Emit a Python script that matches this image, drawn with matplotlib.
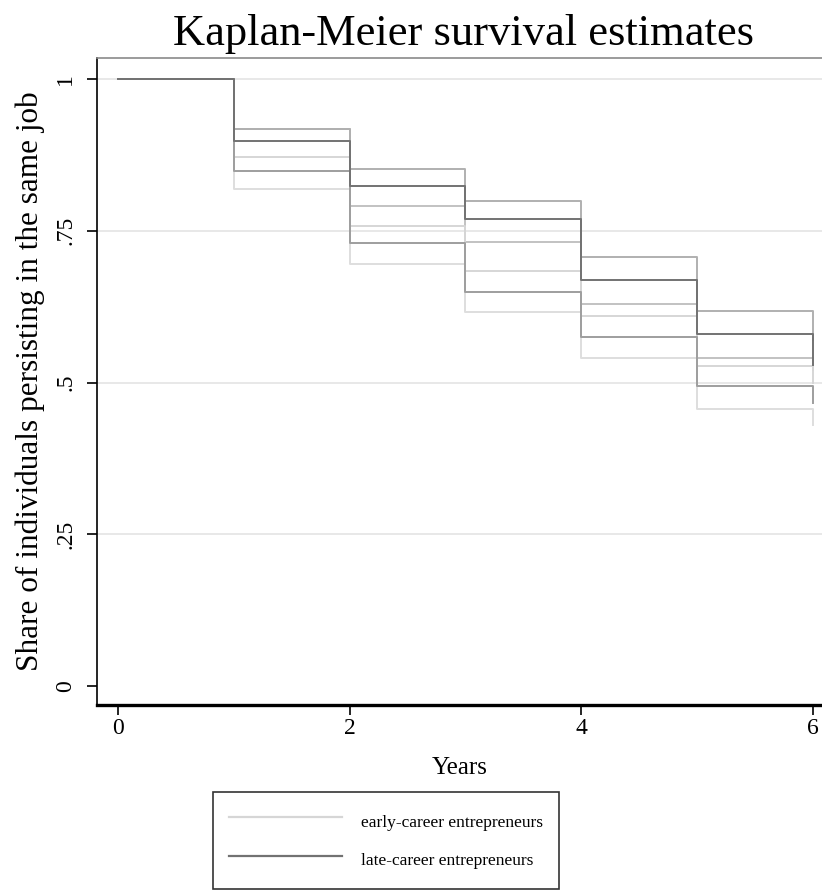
import matplotlib.pyplot as plt

# Kaplan-Meier step values at each year (value holds until the next year)
years = [0, 1, 2, 3, 4, 5, 6]
early_est = [1, 0.871, 0.758, 0.683, 0.610, 0.527, 0.500]
early_upper = [1, 0.917, 0.791, 0.732, 0.629, 0.540, 0.520]
early_lower = [1, 0.818, 0.696, 0.616, 0.541, 0.457, 0.430]
late_est = [1, 0.898, 0.824, 0.769, 0.669, 0.580, 0.529]
late_upper = [1, 0.917, 0.851, 0.799, 0.706, 0.617, 0.570]
late_lower = [1, 0.848, 0.729, 0.649, 0.575, 0.494, 0.467]

yticks = [0, 0.25, 0.5, 0.75, 1]
ytick_labels = ['0', '.25', '.5', '.75', '1']
xticks = [0, 2, 4, 6]

plt.rcParams['font.family'] = ['Liberation Serif', 'DejaVu Serif']

fig = plt.figure(figsize=(8.22, 8.93), dpi=100)
ax = fig.add_axes([97 / 822, 188 / 893, 1 - 97 / 822, 647 / 893])

#Gridlines
for g in yticks[1:]:
    ax.axhline(g, color='#e6e6e6', lw=1.3, zorder=0)

#Early-career estimate with bounds
lw = 1.4
ax.step(years, early_upper, where='post', color='#c2c2c2', lw=lw)
ax.step(years, early_lower, where='post', color='#dedede', lw=lw)
ax.step(years, early_est, where='post', color='#d6d6d6', lw=lw, label='early-career entrepreneurs')

#Late-career estimate with bounds
ax.step(years, late_upper, where='post', color='#b0b0b0', lw=lw)
ax.step(years, late_lower, where='post', color='#9e9e9e', lw=lw)
ax.step(years, late_est, where='post', color='#727272', lw=lw, label='late-career entrepreneurs')

#Axes limits and spines
ax.set_xlim(-0.181, 6.078)
ax.set_ylim(-0.0313, 1.0346)
ax.spines['right'].set_visible(False)
ax.spines['top'].set_color('#8a8a8a')
ax.spines['top'].set_linewidth(1.2)
ax.spines['left'].set_linewidth(1.2)
ax.spines['bottom'].set_linewidth(2.4)

ax.set_xticks(xticks)
ax.set_xticklabels([str(x) for x in xticks], fontsize=17)
ax.set_yticks(yticks)
ax.set_yticklabels(ytick_labels, fontsize=17, rotation=90, va='center')
ax.tick_params(axis='both', length=7, width=1.2, direction='out')
ax.tick_params(axis='x', pad=2)
ax.tick_params(axis='y', pad=8)

#Title and labels
ax.set_title('Kaplan-Meier survival estimates', fontsize=32, pad=9, x=(463 - 97) / 725)
ax.set_xlabel('Years', fontsize=18, labelpad=13)
ax.set_ylabel('Share of individuals persisting in the same job', fontsize=22.5, labelpad=7)

#Legend below the plot
leg = fig.legend(loc='upper center', bbox_to_anchor=(386 / 822, 1 - 792 / 893),
                 fontsize=12.5, frameon=True, fancybox=False, edgecolor='black',
                 handlelength=6.5, handleheight=2.0, handletextpad=1.1,
                 borderpad=0.9, labelspacing=0.69, borderaxespad=0)
leg.get_frame().set_linewidth(1.2)
for line in leg.get_lines():
    line.set_linewidth(1.6)

plt.savefig('out.png', dpi=100)
plt.close()
